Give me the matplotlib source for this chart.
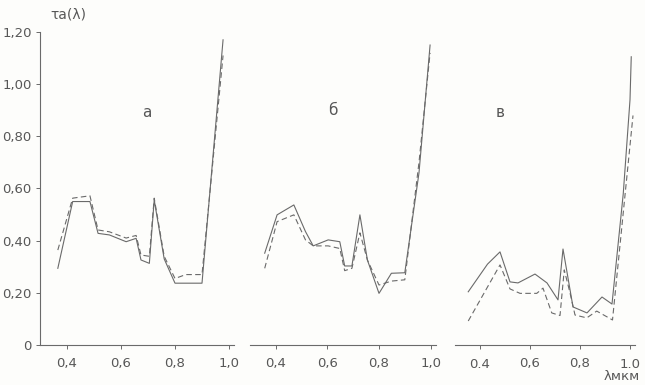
import matplotlib.pyplot as plt

# panel a
lam_a = [0.366, 0.421, 0.485, 0.515, 0.557, 0.619, 0.656, 0.674, 0.705, 0.723, 0.76, 0.80, 0.84, 0.90, 0.978]
solid_a = [0.294, 0.55, 0.55, 0.428, 0.422, 0.396, 0.409, 0.326, 0.313, 0.556, 0.33, 0.237, 0.237, 0.237, 1.17]
dashed_a = [0.364, 0.563, 0.572, 0.441, 0.434, 0.41, 0.42, 0.345, 0.34, 0.563, 0.34, 0.255, 0.27, 0.27, 1.11]

# panel б
lam_b = [0.357, 0.405, 0.47, 0.515, 0.545, 0.603, 0.648, 0.667, 0.695, 0.726, 0.755, 0.80, 0.848, 0.90, 0.955, 0.998]
solid_b = [0.352, 0.499, 0.537, 0.435, 0.38, 0.403, 0.396, 0.303, 0.303, 0.499, 0.326, 0.198, 0.275, 0.277, 0.66, 1.15]
dashed_b = [0.294, 0.473, 0.499, 0.403, 0.38, 0.38, 0.37, 0.285, 0.294, 0.43, 0.326, 0.23, 0.245, 0.25, 0.70, 1.12]

# panel в
lam_v_s = [0.353, 0.43, 0.48, 0.52, 0.552, 0.62, 0.668, 0.712, 0.732, 0.772, 0.828, 0.888, 0.928, 0.973, 1.0, 1.005]
solid_v = [0.204, 0.31, 0.357, 0.242, 0.238, 0.272, 0.238, 0.173, 0.368, 0.146, 0.123, 0.184, 0.157, 0.58, 0.94, 1.105]
lam_v_d = [0.353, 0.48, 0.52, 0.56, 0.627, 0.652, 0.687, 0.72, 0.737, 0.76, 0.78, 0.827, 0.867, 0.93, 1.012]
dashed_v = [0.092, 0.307, 0.215, 0.198, 0.198, 0.218, 0.123, 0.113, 0.288, 0.2, 0.115, 0.104, 0.13, 0.096, 0.88]

xticks = [0.4, 0.6, 0.8, 1.0]
xlabels_ab = ['0,4', '0,6', '0,8', '1,0']
xlabels_v = ['0.4', '0,6', '0,8', '1.0']
yticks = [0, 0.2, 0.4, 0.6, 0.8, 1.0, 1.2]
ylabels = ['0', '0,20', '0,40', '0,60', '0,80', '1,00', '1,20']

ink = '#6a6a6a'
txt = '#575757'
plt.rcParams['font.family'] = ['DejaVu Sans']

fig = plt.figure(figsize=(6.45, 3.85), dpi=100)
fig.patch.set_facecolor('#fdfdfb')
W, H = 645.0, 385.0
bottom = (H - 345) / H
height = (345 - 32) / H

# left edge px, px per unit lambda
panels = [
    (40, 270, lam_a, solid_a, lam_a, dashed_a, 'а', (0.696, 0.89), xlabels_ab),
    (250, 258, lam_b, solid_b, lam_b, dashed_b, 'б', (0.62, 0.90), xlabels_ab),
    (455, 250, lam_v_s, solid_v, lam_v_d, dashed_v, 'в', (0.48, 0.89), xlabels_v),
]
x0, x1 = 0.30, 1.02

for i, (left, scale, ls, s, ld, d, letter, pos, xl) in enumerate(panels):
    ax = fig.add_axes([left / W, bottom, (x1 - x0) * scale / W, height])
    ax.set_facecolor('none')
    ax.plot(ls, s, color=ink, lw=0.8)
    ax.plot(ld, d, color=ink, lw=0.8, ls=(0, (5, 3)))
    ax.set_xlim(x0, x1)
    ax.set_ylim(0, 1.2)
    ax.set_xticks(xticks)
    ax.set_xticklabels(xl)
    ax.text(pos[0], pos[1], letter, color=txt, fontsize=11, ha='center', va='center')
    for sp in ['top', 'right']:
        ax.spines[sp].set_visible(False)
    ax.spines['bottom'].set_color(ink)
    ax.spines['bottom'].set_linewidth(0.8)
    ax.tick_params(axis='x', colors=ink, labelcolor=txt, labelsize=9.5, length=3, width=0.7, pad=6)
    if i == 0:
        ax.spines['left'].set_color(ink)
        ax.spines['left'].set_linewidth(0.8)
        ax.set_yticks(yticks)
        ax.set_yticklabels(ylabels)
        ax.tick_params(axis='y', colors=ink, labelcolor=txt, labelsize=9.5, length=3, width=0.7, pad=3)
    else:
        ax.spines['left'].set_visible(False)
        ax.set_yticks([])

fig.text(50 / W, 1 - 15 / H, 'τa(λ)', color=txt, fontsize=10, ha='left', va='center')
fig.text(640 / W, 1 - 377 / H, 'λмкм', color=txt, fontsize=9.5, ha='right', va='center')

plt.savefig('out.png', dpi=100, facecolor=fig.get_facecolor())
plt.close(fig)
